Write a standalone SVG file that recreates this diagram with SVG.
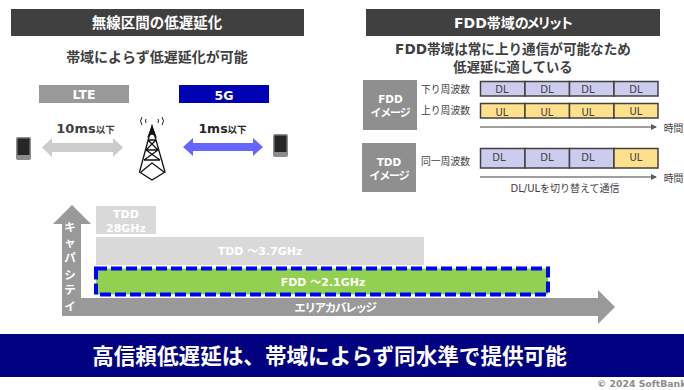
<svg xmlns="http://www.w3.org/2000/svg" width="684" height="390" viewBox="0 0 684 390">
<style>
text{font-family:"DejaVu Sans","Noto Sans CJK JP",sans-serif;text-anchor:middle}
.j{font-family:"Noto Sans CJK JP",sans-serif}
.b{font-weight:700}
.w{fill:#fff}
.d{fill:#404040}
.cell{stroke:#404040;stroke-width:1.5}
.dl{fill:#ccccee}
.ul{fill:#ffe08c}
.c{font-size:10px;fill:#404040}
.lab{font-size:9.800px;fill:#404040}
.tw{fill:none;stroke:#111;stroke-width:1.3}
.sig{fill:none;stroke:#222;stroke-width:1}
.v{font-size:11.500px}
.im{font-size:11px;letter-spacing:-1.200px}
</style>
<defs>
<marker id="tip" markerWidth="6" markerHeight="6" refX="5" refY="3" orient="auto" markerUnits="userSpaceOnUse"><path d="M0 0L6 3L0 6z" fill="#595959"/></marker>
<g id="phone"><rect x="0" y="0" width="15" height="23" rx="2" fill="#8c8c8c"/><rect x="1.500" y="1.500" width="12" height="16.500" fill="#262626"/></g>
</defs>
<rect width="684" height="390" fill="#fff"/>

<g id="header-left"><rect x="11" y="9" width="293" height="27" fill="#404040"/><text class="j b w" x="157" y="28" font-size="14.500">無線区間の低遅延化</text></g>
<g id="subtitle-left"><text class="j b d" x="157" y="62" font-size="14">帯域によらず低遅延化が可能</text></g>
<g id="lte"><rect x="39" y="85" width="90" height="18" fill="#999"/><text class="b w" x="84" y="99" font-size="12.500">LTE</text></g>
<g id="g5"><rect x="179" y="85" width="90" height="18" fill="#0000b4"/><text class="b w" x="224" y="100" font-size="12.500">5G</text></g>
<g id="lat-lte"><text class="b d" x="85.500" y="133" font-size="13"><tspan>10ms</tspan><tspan class="j" font-size="9.500">以下</tspan></text></g>
<g id="lat-5g"><text class="b" fill="#262626" x="222.500" y="133" font-size="12.500"><tspan>1ms</tspan><tspan class="j" font-size="9.500">以下</tspan></text></g>
<g id="phone-left"><use href="#phone" x="16" y="137"/></g>
<g id="phone-right"><use href="#phone" x="273" y="134"/></g>
<g id="tower">
<path class="tw" d="M152 126L139.500 172L152 180L165 172ZM146 150L158 150M144 160L160 160M148 140L156 140M141 172L152 163L164 172M146 150L160 160M158 150L144 160M148 140L158 150M156 140L146 150M152 126L152 135"/>
<path d="M152 125L147 138L152 134L157 138Z" fill="#111"/>
<path class="sig" d="M142 117Q139 121 142 125M146 119Q145 121 146 123M158 119Q159 121 158 123M162 117Q165 121 162 125"/>
</g>

<g id="connectors">
<path d="M42 147.500L52 138V143H113V138L123 147.500L113 157V152H52V157Z" fill="#cccccc"/>
<path d="M183 147L193 138V143H253V138L263 147L253 156V151H193V156Z" fill="#6666ff"/>
<path d="M480 127H656" stroke="#7f7f7f" stroke-width="1.300" marker-end="url(#tip)"/>
<path d="M480 177H656" stroke="#7f7f7f" stroke-width="1.300" marker-end="url(#tip)"/>
</g>

<g id="header-right"><rect x="366" y="9" width="294" height="27" fill="#404040"/><text class="b w" x="454" y="28" font-size="14" style="text-anchor:start">FDD<tspan class="j">帯域</tspan><tspan class="j" letter-spacing="-2.800">のメリット</tspan></text></g>
<g id="subtitle-right"><text class="b d" x="513" y="54" font-size="13.600">FDD<tspan class="j">帯域は常に上り通信が可能なため</tspan></text><text class="j b d" x="513" y="72" font-size="13.300">低遅延に適している</text></g>

<g id="fdd-box"><rect x="363" y="80" width="54" height="50" fill="#8f8f8f"/><text class="b w" x="390.500" y="103" font-size="10.500">FDD</text><text class="j b w im" x="390" y="117">イメージ</text></g>
<g id="tdd-box"><rect x="362" y="143" width="54" height="49" fill="#8f8f8f"/><text class="b w" x="389" y="166" font-size="10.500">TDD</text><text class="j b w im" x="389" y="180">イメージ</text></g>
<g id="labels">
<text class="j lab" x="445.500" y="93">下り周波数</text>
<text class="j lab" x="445.500" y="114">上り周波数</text>
<text class="j lab" x="445.500" y="165">同一周波数</text>
<text class="j lab" x="673.500" y="132">時間</text>
<text class="j lab" x="673.500" y="182">時間</text>
<text class="lab" x="565" y="192" style="font-size:10px"><tspan>DL/UL</tspan><tspan class="j">を切り替えて通信</tspan></text>
</g>
<g id="row-dl">
<rect class="cell dl" x="480.500" y="81.500" width="44.500" height="14.500"/><rect class="cell dl" x="525" y="81.500" width="44.500" height="14.500"/><rect class="cell dl" x="569.500" y="81.500" width="44.500" height="14.500"/><rect class="cell dl" x="614" y="81.500" width="44" height="14.500"/>
<text class="c" x="502" y="93">DL</text><text class="c" x="547" y="93">DL</text><text class="c" x="588" y="93">DL</text><text class="c" x="636" y="93">DL</text>
</g>
<g id="row-ul">
<rect class="cell ul" x="480.500" y="103.500" width="44.500" height="14.500"/><rect class="cell ul" x="525" y="103.500" width="44.500" height="14.500"/><rect class="cell ul" x="569.500" y="103.500" width="44.500" height="14.500"/><rect class="cell ul" x="614" y="103.500" width="44" height="14.500"/>
<text class="c" x="502" y="116">UL</text><text class="c" x="547" y="116">UL</text><text class="c" x="588" y="116">UL</text><text class="c" x="636" y="115">UL</text>
</g>
<g id="row-tdd">
<rect class="cell dl" x="480.500" y="148.500" width="44.500" height="19.500"/><rect class="cell dl" x="525" y="148.500" width="44.500" height="19.500"/><rect class="cell dl" x="569.500" y="148.500" width="44.500" height="19.500"/><rect class="cell ul" x="614" y="148.500" width="44" height="19.500"/>
<text class="c" x="499" y="161">DL</text><text class="c" x="547" y="161">DL</text><text class="c" x="588" y="161">DL</text><text class="c" x="636" y="161">UL</text>
</g>

<g id="axis-area"><path d="M62 298H598V290L615 307L598 324V316H62Z" fill="#999"/><text class="j b w" x="335" y="312" font-size="11.500" letter-spacing="-1.300">エリアカバレッジ</text></g>
<g id="axis-capacity"><path d="M62 316V224H53L72 205L91 224H81V316Z" fill="#999"/>
<text class="j b w v" x="70" y="231">キ</text><text class="j b w v" x="70" y="247">ャ</text><text class="j b w v" x="70" y="262">パ</text><text class="j b w v" x="70" y="279">シ</text><text class="j b w v" x="70" y="294">テ</text><text class="j b w v" x="70" y="311">イ</text></g>
<g id="tdd28"><rect x="96" y="206" width="60" height="28" fill="#d9d9d9"/><text class="b w" x="126" y="218" font-size="11">TDD</text><text class="b w" x="126" y="232" font-size="11">28GHz</text></g>
<g id="tdd37"><rect x="96" y="237" width="328" height="28" fill="#d9d9d9"/><text class="b w" x="260" y="255" font-size="11">TDD ～3.7GHz</text></g>
<g id="fdd21"><rect x="96" y="268.500" width="452" height="26" fill="#92d050" stroke="#0000ff" stroke-width="4" stroke-dasharray="11 4"/><text class="b w" x="323" y="286" font-size="11">FDD ～2.1GHz</text></g>

<g id="banner"><rect x="0" y="334" width="684" height="43" fill="#000080"/><text class="j b w" x="329.500" y="364" font-size="21.600">高信頼低遅延は、帯域によらず同水準で提供可能</text></g>
<g id="copyright"><text x="597" y="387" font-size="9.300" font-weight="700" fill="#8c8c8c" style="text-anchor:start">© 2024 SoftBank</text></g>
</svg>
